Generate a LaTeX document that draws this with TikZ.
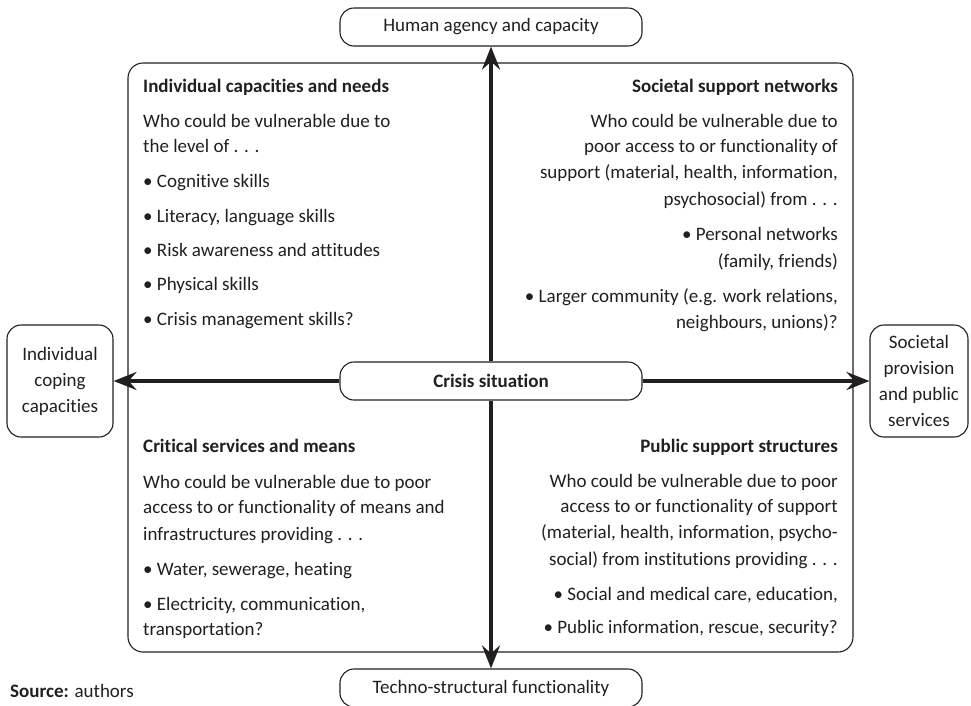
\documentclass[tikz,border=0pt]{standalone}
\usepackage{fontspec}
\setmainfont{Carlito}[Ligatures={NoCommon}]
\usetikzlibrary{arrows.meta}
\definecolor{ink}{HTML}{231F20}
\tikzset{
  txt/.style={inner sep=0pt, font=\fontsize{19}{26}\selectfont, text=ink},
  roundbox/.style={draw=ink, line width=1.1pt, rounded corners=14pt, fill=white, inner sep=0pt, font=\fontsize{19}{26}\selectfont, text=ink},
  bigarrow/.style={line width=4pt, draw=ink, -{Stealth[length=23pt,width=18pt,inset=8pt]}}
}
\begin{document}
\begin{tikzpicture}[x=1pt,y=-1pt]
\useasboundingbox (0,0) rectangle (971,705);
% main frame
\node[roundbox, minimum width=725pt, minimum height=589pt, rounded corners=15pt] (main) at (490.5,357.5) {};
% outer nodes
\node[roundbox, minimum width=302pt, minimum height=38pt] (top) at (491,27) {Human agency and capacity};
\node[roundbox, minimum width=302pt, minimum height=38pt] (bot) at (491,688) {Techno-structural functionality};
\node[roundbox, minimum width=302pt, minimum height=38pt, font=\fontsize{19}{26}\selectfont\bfseries] (crisis) at (491,381) {Crisis situation};
\node[roundbox, minimum width=106pt, minimum height=112pt, align=center] (left) at (60,381) {Individual\\coping\\capacities};
\node[roundbox, minimum width=98pt, minimum height=112pt, align=center] (right) at (919,381) {Societal\\provision\\and public\\services};
% arrows
\draw[bigarrow] (crisis.north) -- (top.south);
\draw[bigarrow] (crisis.south) -- (bot.north);
\draw[bigarrow] (crisis.west) -- (left.east);
\draw[bigarrow] (crisis.east) -- (right.west);
% top left quadrant
\foreach \yy/\tx [count=\i] in {
  92/{\bfseries Individual capacities and needs},
  127/{Who could be vulnerable due to},
  152/{the level of . . .},
  187/{\textbullet\ Cognitive skills},
  222/{\textbullet\ Literacy, language skills},
  256/{\textbullet\ Risk awareness and attitudes},
  290/{\textbullet\ Physical skills},
  325/{\textbullet\ Crisis management skills?}}
  \node[txt, anchor=base west] (tl\i) at (143,\yy) {\tx};
% top right quadrant
\foreach \yy/\tx [count=\i] in {
  92/{\bfseries Societal support networks},
  127/{Who could be vulnerable due to},
  152/{poor access to or functionality of},
  178/{support (material, health, information,},
  205/{psychosocial) from . . .},
  240/{\textbullet\ Personal networks},
  267/{(family, friends)},
  302/{\textbullet\ Larger community (e.g. work relations,},
  328/{neighbours, unions)?}}
  \node[txt, anchor=base east] (tr\i) at (838,\yy) {\tx};
% bottom left quadrant
\foreach \yy/\tx [count=\i] in {
  452/{\bfseries Critical services and means},
  488/{Who could be vulnerable due to poor},
  513/{access to or functionality of means and},
  540/{infrastructures providing . . .},
  575/{\textbullet\ Water, sewerage, heating},
  610/{\textbullet\ Electricity, communication,},
  635/{transportation?}}
  \node[txt, anchor=base west] (bl\i) at (143,\yy) {\tx};
% bottom right quadrant
\foreach \yy/\tx [count=\i] in {
  452/{\bfseries Public support structures},
  487/{Who could be vulnerable due to poor},
  512/{access to or functionality of support},
  538/{(material, health, information, psycho-},
  565/{social) from institutions providing . . .},
  600/{\textbullet\ Social and medical care, education,},
  633/{\textbullet\ Public information, rescue, security?}}
  \node[txt, anchor=base east] (br\i) at (838,\yy) {\tx};
% source
\node[txt, anchor=base west] (src) at (10,697) {\textbf{Source:} authors};
\end{tikzpicture}
\end{document}
